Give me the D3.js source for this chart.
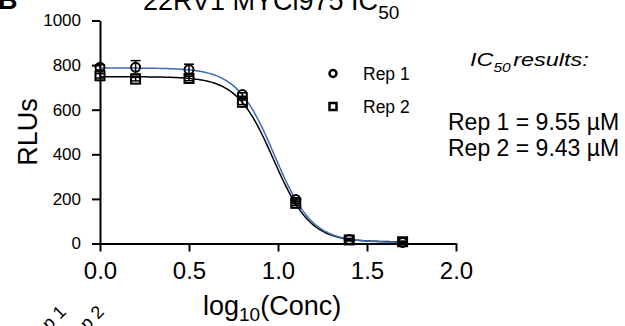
<!DOCTYPE html>
<html>
<head>
<meta charset="utf-8">
<script src="https://cdn.jsdelivr.net/npm/d3@7"></script>
<style>
  body { margin: 0; background: #fff; }
  svg { display: block; font-family: "Liberation Sans", Arial, sans-serif; }
</style>
</head>
<body>
<svg id="plot" width="625" height="326"></svg>
<script>
// log10 concentration of each dose
const logConc = [0, 0.2, 0.5, 0.8, 1.1, 1.4, 1.7];
const rep1Mean = [790, 790, 780, 668, 197, 18, 5];
const rep1Sd = [12, 30, 24, 8, 8, 5, 3];
const rep2Mean = [752, 737, 740, 633, 180, 16, 8];
const rep2Sd = [10, 8, 10, 10, 10, 4, 3];

// 4PL fit parameters
const rep1Fit = { top: 787, bottom: 5, logIC50: Math.log10(9.55), hill: 4.1 };
const rep2Fit = { top: 748, bottom: 7, logIC50: Math.log10(9.43), hill: 4.2 };

const xTicks = [0, 0.5, 1.0, 1.5, 2.0];
const yTicks = [0, 200, 400, 600, 800, 1000];
const results = ['Rep 1 = 9.55 \u00b5M', 'Rep 2 = 9.43 \u00b5M'];

const svg = d3.select('#plot');

const x = d3.scaleLinear().domain([0, 2]).range([100, 456]);
const y = d3.scaleLinear().domain([0, 1000]).range([243.5, 20.5]);

// axes
const yAxis = svg.append('g')
  .attr('transform', 'translate(100,0)')
  .call(d3.axisLeft(y).tickValues(yTicks).tickSize(8).tickSizeOuter(0).tickPadding(11)
    .tickFormat(d3.format('d')));
yAxis.selectAll('text').attr('font-size', 17).attr('fill', '#000').attr('font-family', null);

const xAxis = svg.append('g')
  .attr('transform', `translate(0,${y(0)})`)
  .call(d3.axisBottom(x).tickValues(xTicks).tickSize(8).tickSizeOuter(0).tickPadding(10)
    .tickFormat(d3.format('.1f')));
xAxis.selectAll('text').attr('font-size', 24).attr('fill', '#000').attr('font-family', null);

svg.selectAll('.domain, .tick line').attr('stroke', '#000').attr('stroke-width', 2);

// fitted curves
const fit = (p) => (v) => p.bottom + (p.top - p.bottom) / (1 + Math.pow(10, (v - p.logIC50) * p.hill));
const xs = d3.range(0, 1.7001, 0.01);
const line = d3.line().x((d) => x(d));

svg.append('path')
  .datum(xs)
  .attr('fill', 'none')
  .attr('stroke', '#000')
  .attr('stroke-width', 1.5)
  .attr('d', line.y((d) => y(fit(rep2Fit)(d))));

svg.append('path')
  .datum(xs)
  .attr('fill', 'none')
  .attr('stroke', '#3c6cb0')
  .attr('stroke-width', 1.5)
  .attr('d', line.y((d) => y(fit(rep1Fit)(d))));

// error bars
function errorBars(mean, sd) {
  const g = svg.append('g').attr('stroke', '#000').attr('stroke-width', 1.5);
  logConc.forEach((c, i) => {
    const cx = x(c);
    g.append('line').attr('x1', cx).attr('x2', cx).attr('y1', y(mean[i] - sd[i])).attr('y2', y(mean[i] + sd[i]));
    g.append('line').attr('x1', cx - 5).attr('x2', cx + 5).attr('y1', y(mean[i] + sd[i])).attr('y2', y(mean[i] + sd[i]));
    g.append('line').attr('x1', cx - 5).attr('x2', cx + 5).attr('y1', y(mean[i] - sd[i])).attr('y2', y(mean[i] - sd[i]));
  });
}
errorBars(rep1Mean, rep1Sd);
errorBars(rep2Mean, rep2Sd);

svg.append('g').selectAll('rect')
  .data(rep2Mean)
  .join('rect')
  .attr('x', (d, i) => x(logConc[i]) - 4.5)
  .attr('y', (d) => y(d) - 4.5)
  .attr('width', 9)
  .attr('height', 9)
  .attr('fill', 'none')
  .attr('stroke', '#000')
  .attr('stroke-width', 2);

svg.append('g').selectAll('circle')
  .data(rep1Mean)
  .join('circle')
  .attr('cx', (d, i) => x(logConc[i]))
  .attr('cy', (d) => y(d))
  .attr('r', 4.5)
  .attr('fill', 'none')
  .attr('stroke', '#000')
  .attr('stroke-width', 2);

// titles and labels
svg.append('text').attr('x', -2).attr('y', 9).attr('font-size', 27).attr('font-weight', 'bold').text('B');

const title = svg.append('text').attr('x', 143).attr('y', 10).attr('font-size', 27);
title.append('tspan').text('22RV1 MYCi975 IC');
title.append('tspan').attr('font-size', 19).attr('dy', 9).text('50');

svg.append('text')
  .attr('transform', 'translate(37,132) rotate(-90)')
  .attr('text-anchor', 'middle')
  .attr('font-size', 27)
  .text('RLUs');

const xl = svg.append('text').attr('x', 203).attr('y', 315).attr('font-size', 27);
xl.append('tspan').text('log');
xl.append('tspan').attr('font-size', 19).attr('dy', 6).text('10');
xl.append('tspan').attr('dy', -6).text('(Conc)');

// legend
const legend = svg.append('g').attr('font-size', 17.5);
legend.append('circle').attr('cx', 333).attr('cy', 73.5).attr('r', 3.5)
  .attr('fill', 'none').attr('stroke', '#000').attr('stroke-width', 2.5);
legend.append('rect').attr('x', 329.5).attr('y', 103).attr('width', 7).attr('height', 7)
  .attr('fill', 'none').attr('stroke', '#000').attr('stroke-width', 2.5);
legend.append('text').attr('x', 363).attr('y', 80).text('Rep 1');
legend.append('text').attr('x', 363).attr('y', 112.5).text('Rep 2');

const ic = svg.append('text')
  .attr('transform', 'translate(470,66) scale(1.3,1)')
  .attr('font-size', 18)
  .attr('font-style', 'italic');
ic.append('tspan').text('IC');
ic.append('tspan').attr('font-size', 12).attr('dy', 6).text('50');
ic.append('tspan').attr('dy', -6).attr('dx', 2).text('results:');

svg.append('g').selectAll('text')
  .data(results)
  .join('text')
  .attr('x', 448)
  .attr('y', (d, i) => 129.5 + i * 26)
  .attr('font-size', 23)
  .text((d) => d);

// clipped labels from the neighbouring panel
svg.append('g').attr('font-size', 18).selectAll('text')
  .data(['Rep 1', 'Rep 2'])
  .join('text')
  .attr('text-anchor', 'end')
  .attr('transform', (d, i) => `translate(${67 + i * 38},${313}) rotate(-45)`)
  .text((d) => d);
</script>
</body>
</html>
